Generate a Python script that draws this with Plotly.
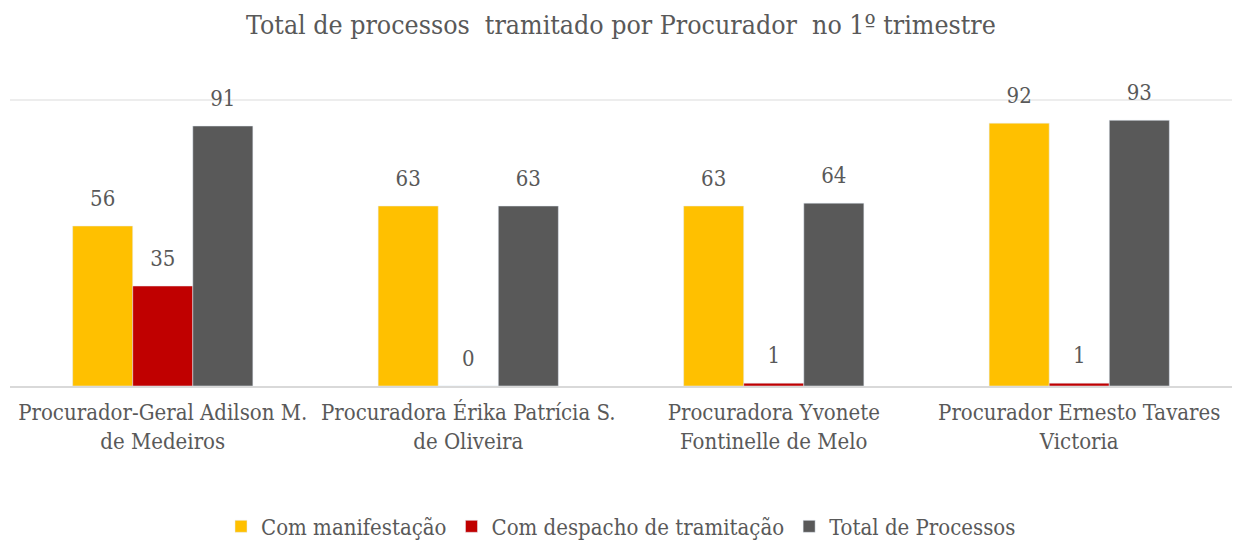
import plotly.graph_objects as go

categories = [
    "Procurador-Geral Adilson M.<br>de Medeiros",
    "Procuradora Érika Patrícia S.<br>de Oliveira",
    "Procuradora Yvonete<br>Fontinelle de Melo",
    "Procurador Ernesto Tavares<br>Victoria",
]
series_names = ["Com manifestação", "Com despacho de tramitação", "Total de Processos"]
com_manifestacao = [56, 63, 63, 92]
com_despacho = [35, 0, 1, 1]
total_processos = [91, 63, 64, 93]
colors = ["#FFC000", "#C00000", "#595959"]

FONT = "DejaVu Serif Condensed"
TXT = "#595959"
GAP = 0.41

fig = go.Figure()
all_vals = [com_manifestacao, com_despacho, total_processos]
for i, (name, vals, col) in enumerate(zip(series_names, all_vals, colors)):
    fig.add_trace(go.Bar(
        x=categories, y=vals, name=name, marker_color=col,
        offsetgroup=str(i),
    ))
for i, (name, vals) in enumerate(zip(series_names, all_vals)):
    fig.add_trace(go.Scatter(
        x=categories, y=vals, mode="markers+text", showlegend=False, hoverinfo="skip",
        text=[str(v) for v in vals], textposition="top center",
        textfont=dict(family=FONT, size=22, color=TXT),
        marker=dict(size=22, color="rgba(0,0,0,0)"),
        offsetgroup=str(i), cliponaxis=False,
    ))

fig.update_layout(
    width=1242, height=540,
    margin=dict(l=10, r=10, t=96, b=154),
    paper_bgcolor="white", plot_bgcolor="white",
    barmode="group", bargap=GAP, bargroupgap=0,
    scattermode="group", scattergap=GAP,
    title=dict(text="Total de processos  tramitado por Procurador  no 1º trimestre",
               x=0.5, xanchor="center", y=0.955, yanchor="middle",
               font=dict(family=FONT, size=26.5, color=TXT)),
    font=dict(family=FONT, color=TXT),
    legend=dict(orientation="h", x=0.5, xanchor="center", xref="container",
                y=0.025, yanchor="middle", yref="container",
                font=dict(family=FONT, size=22, color=TXT), itemwidth=30,
                traceorder="normal"),
)
fig.update_xaxes(showline=True, linecolor="#D9D9D9", linewidth=2,
                 tickfont=dict(family=FONT, size=22, color=TXT),
                 ticks="outside", ticklen=6, tickcolor="rgba(0,0,0,0)")
fig.update_yaxes(range=[0, 101.5], tickvals=[100], showgrid=True, gridcolor="#EDEDED", gridwidth=1.5,
                 showticklabels=False, zeroline=False)

fig.write_html("out.html", config={"displayModeBar": False},
               post_script="document.body.style.margin='0';")
